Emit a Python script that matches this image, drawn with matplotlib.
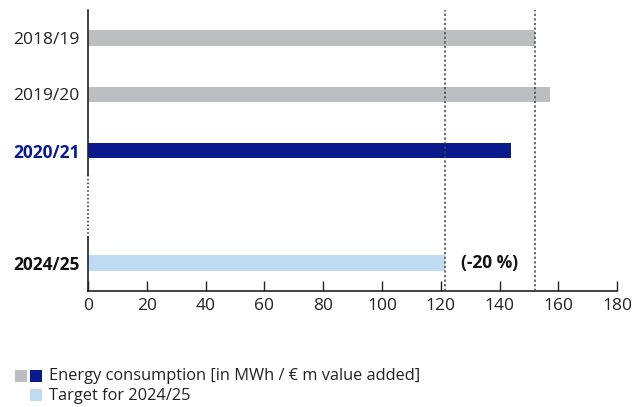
import matplotlib.pyplot as plt
from matplotlib.patches import Rectangle

plt.rcParams['font.family'] = ['Open Sans', 'DejaVu Sans']

years = ["2018/19", "2019/20", "2020/21", "2024/25"]
positions = [0, 1, 2, 4]
values = [152, 157, 144, 121.6]
colors = ["#bdbec0", "#bdbec0", "#0a1a8c", "#bfdbf2"]
baseline = 152
target = 121.6
target_label = "(-20 %)"
x_ticks = [0, 20, 40, 60, 80, 100, 120, 140, 160, 180]

fig = plt.figure(figsize=(6.33, 4.07), dpi=100)
ax = fig.add_axes([0.139, 0.285, 0.836, 0.69])

ax.barh(positions, values, height=0.28, color=colors, zorder=2)

# reference lines for baseline and target
for v in (baseline, target):
    ax.axvline(v, color="#444444", linestyle=(0, (1.5, 1.5)), linewidth=1.1, zorder=3)

ax.text(target + 5.3, 4, target_label, ha="left", va="center",
        fontsize=12.5, fontweight="bold", color="#111111")

ax.set_xlim(0, 180)
ax.set_ylim(4.5, -0.5)
ax.set_xticks(x_ticks)
ax.set_xticklabels([str(t) for t in x_ticks], fontsize=12.5, color="#222222")
ax.tick_params(axis="x", direction="in", length=7, width=1, color="#222222", pad=5)

ax.set_yticks(positions)
ax.set_yticklabels(years, fontsize=12.5)
ax.tick_params(axis="y", length=0, pad=6)
for lbl, yr in zip(ax.get_yticklabels(), years):
    if yr == "2020/21":
        lbl.set_color("#0a1a8c")
        lbl.set_fontweight("bold")
    elif yr == "2024/25":
        lbl.set_color("#111111")
        lbl.set_fontweight("bold")
    else:
        lbl.set_color("#222222")

for s in ("top", "right", "left"):
    ax.spines[s].set_visible(False)
ax.spines["bottom"].set_color("#222222")
ax.spines["bottom"].set_linewidth(1.2)

# left axis with a dotted gap before the target year
ax.plot([0, 0], [-0.5, 2.44], color="#222222", lw=1.2, clip_on=False, zorder=4)
ax.plot([0, 0], [2.44, 3.54], color="#222222", lw=1.1, linestyle=(0, (1, 1.5)), clip_on=False, zorder=4)
ax.plot([0, 0], [3.54, 4.5], color="#222222", lw=1.2, clip_on=False, zorder=4)

# legend drawn in figure coordinates
W, H = 633, 407
def box(x, y, c):
    fig.add_artist(Rectangle((x / W, 1 - (y + 12) / H), 12 / W, 12 / H,
                             transform=fig.transFigure, color=c, lw=0))

box(15, 370, "#bdbec0")
box(30, 370, "#0a1a8c")
box(30, 389, "#bfdbf2")
fig.text(49 / W, 1 - 376 / H, "Energy consumption [in MWh / € m value added]",
         fontsize=11.8, va="center", ha="left", color="#222222")
fig.text(49 / W, 1 - 396 / H, "Target for 2024/25",
         fontsize=11.8, va="center", ha="left", color="#222222")

fig.savefig("out.png", dpi=100)
